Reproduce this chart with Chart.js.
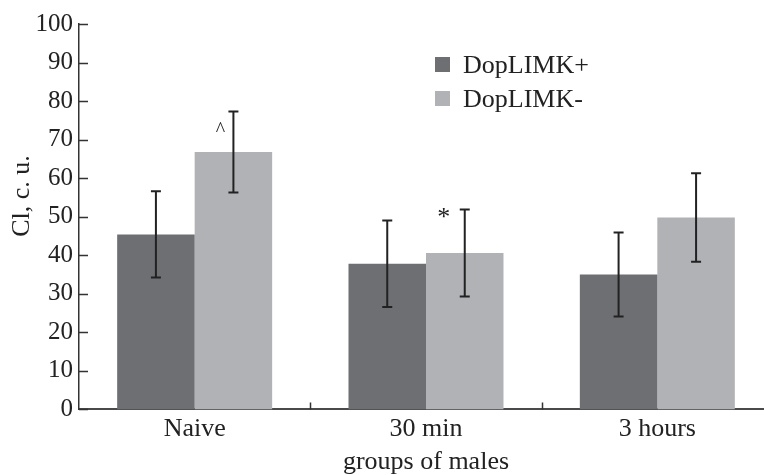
<!DOCTYPE html>
<html>
<head>
<meta charset="utf-8">
<script src="https://cdn.jsdelivr.net/npm/chart.js@4/dist/chart.umd.min.js"></script>
<style>
html, body { margin: 0; padding: 0; background: #fff; overflow: hidden; }
.grafic { position: relative; width: 773px; height: 475px; }
</style>
</head>
<body>
<div class="grafic"><canvas id="myChart"></canvas></div>
<script>
const groups = ['Naive', '30 min', '3 hours'];
const seriesNames = ['DopLIMK+', 'DopLIMK-'];
const limkPlus = [45.4, 37.8, 35.0];
const limkMinus = [66.8, 40.6, 49.8];
const errPlus = [11.2, 11.2, 10.9];
const errMinus = [10.5, 11.3, 11.5];
const marksMinus = ['^', '*', ''];
const yTicks = [0, 10, 20, 30, 40, 50, 60, 70, 80, 90, 100];

const serif = "'Liberation Serif', 'Times New Roman', serif";
const darkGray = '#6e6f73';
const lightGray = '#b1b2b6';

// barras de error, marcas, ticks hacia adentro y leyenda
const extras = {
    id: 'extras',
    afterDatasetsDraw(chart) {
        const ctx = chart.ctx;
        const y = chart.scales.y;
        const x = chart.scales.x;
        const area = chart.chartArea;
        const errs = [errPlus, errMinus];
        ctx.save();
        ctx.strokeStyle = '#222';
        ctx.lineWidth = 2;
        chart.data.datasets.forEach((ds, i) => {
            const meta = chart.getDatasetMeta(i);
            meta.data.forEach((bar, j) => {
                const top = y.getPixelForValue(ds.data[j] + errs[i][j]);
                const bot = y.getPixelForValue(ds.data[j] - errs[i][j]);
                ctx.beginPath();
                ctx.moveTo(bar.x, top); ctx.lineTo(bar.x, bot);
                ctx.moveTo(bar.x - 5, top); ctx.lineTo(bar.x + 5, top);
                ctx.moveTo(bar.x - 5, bot); ctx.lineTo(bar.x + 5, bot);
                ctx.stroke();
            });
        });
        // marcas de significancia
        const metaMinus = chart.getDatasetMeta(1);
        ctx.fillStyle = '#222';
        ctx.textAlign = 'center';
        ctx.textBaseline = 'middle';
        marksMinus.forEach((m, j) => {
            if (!m) return;
            const bar = metaMinus.data[j];
            const top = y.getPixelForValue(limkMinus[j] + errMinus[j]);
            if (m === '^') {
                ctx.font = '20px ' + serif;
                ctx.fillText(m, bar.x - 13, top + 19);
            } else {
                ctx.font = '26px ' + serif;
                ctx.fillText(m, bar.x - 21, top + 9);
            }
        });
        // ticks hacia adentro
        ctx.strokeStyle = '#333';
        ctx.lineWidth = 1.5;
        ctx.beginPath();
        yTicks.forEach(v => {
            const py = Math.round(y.getPixelForValue(v)) + 0.5;
            ctx.moveTo(area.left, py); ctx.lineTo(area.left + 9, py);
        });
        for (let k = 1; k < groups.length; k++) {
            const px = Math.round(x.left + k * x.width / groups.length) + 0.5;
            ctx.moveTo(px, area.bottom); ctx.lineTo(px, area.bottom - 7);
        }
        ctx.stroke();
        // leyenda
        ctx.textAlign = 'left';
        ctx.textBaseline = 'alphabetic';
        ctx.font = '26px ' + serif;
        chart.data.datasets.forEach((ds, i) => {
            const cy = 64 + i * 34;
            ctx.fillStyle = ds.backgroundColor;
            ctx.fillRect(435, cy - 7, 15, 15);
            ctx.fillStyle = '#222';
            ctx.fillText(ds.label, 463, cy + 9);
        });
        // titulo del eje y
        ctx.save();
        ctx.translate(22, 196);
        ctx.rotate(-Math.PI / 2);
        ctx.textAlign = 'center';
        ctx.textBaseline = 'middle';
        ctx.fillText('Cl, c. u.', 0, 0);
        ctx.restore();
        ctx.restore();
    }
};

const ctx = document.getElementById('myChart');
new Chart(ctx, {
    type: 'bar',
    data: {
        labels: groups,
        datasets: [{
            label: seriesNames[0],
            data: limkPlus,
            backgroundColor: darkGray,
            borderWidth: 0
        }, {
            label: seriesNames[1],
            data: limkMinus,
            backgroundColor: lightGray,
            borderWidth: 0
        }]
    },
    options: {
        responsive: true,
        maintainAspectRatio: false,
        animation: false,
        layout: { padding: { top: 24, right: 0, left: 0, bottom: 0 } },
        plugins: {
            legend: { display: false },
            tooltip: { enabled: false }
        },
        datasets: {
            bar: { barPercentage: 1, categoryPercentage: 0.67 }
        },
        scales: {
            x: {
                grid: { display: false, drawTicks: false },
                border: { display: true, color: '#4a4a4a', width: 2 },
                ticks: {
                    color: '#222',
                    padding: 12,
                    font: { family: serif, size: 26, lineHeight: 0.6 }
                },
                title: {
                    display: true,
                    text: 'groups of males',
                    color: '#222',
                    padding: { top: 0, bottom: 0 },
                    font: { family: serif, size: 26, lineHeight: 1.0 }
                }
            },
            y: {
                min: 0,
                max: 100,
                afterBuildTicks: s => { s.ticks = yTicks.map(v => ({ value: v })); },
                afterFit: s => { s.width = 79; },
                grid: { display: false, drawTicks: false },
                border: { display: true, color: '#333', width: 1.5 },
                ticks: {
                    color: '#222',
                    padding: 6,
                    font: { family: serif, size: 25 }
                }
            }
        }
    },
    plugins: [extras]
});
</script>
</body>
</html>
